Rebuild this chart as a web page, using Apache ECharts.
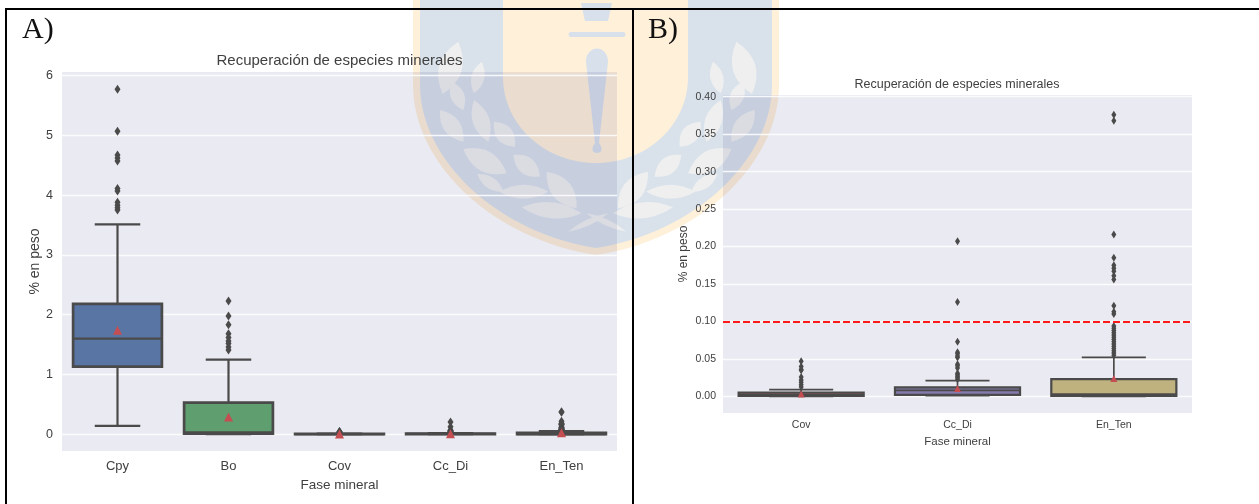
<!DOCTYPE html>
<html><head><meta charset="utf-8">
<style>html,body{margin:0;padding:0;background:#fff}#c{width:1259px;height:504px}</style>
<script src="https://cdn.jsdelivr.net/npm/echarts@6/dist/echarts.min.js"></script>
</head><body><div id="c"></div>
<script>
const chartTitle = 'Recuperación de especies minerales';
const xName = 'Fase mineral';
const yName = '% en peso';
const categoriesA = ['Cpy','Bo','Cov','Cc_Di','En_Ten'];
const categoriesB = ['Cov','Cc_Di','En_Ten'];
const ticksA = [0,1,2,3,4,5,6];
const ticksB = [0,0.05,0.10,0.15,0.20,0.25,0.30,0.35,0.40];
const threshold = 0.10;
// [low whisker, q1, median, q3, high whisker]
const boxCpy = [0.14,1.13,1.60,2.18,3.51];
const boxBo = [0.00,0.01,0.03,0.53,1.25];
const boxCov = [0.000,0.0005,0.002,0.005,0.009];
const boxCcDi = [0.001,0.002,0.008,0.012,0.021];
const boxEnTen = [0.000,0.0005,0.003,0.023,0.052];
const meanCpy = 1.74, meanBo = 0.29, meanCov = 0.003, meanCcDi = 0.0105, meanEnTen = 0.024;
const outCpy = [5.77,5.07,4.67,4.62,4.57,4.11,4.07,3.88,3.83,3.79,3.75];
const outBo = [2.23,1.98,1.83,1.68,1.62,1.56,1.52,1.46,1.41];
const outCov = [0.047,0.040,0.036,0.035,0.026,0.022,0.019,0.0155,0.0125];
const outCcDi = [0.207,0.126,0.073,0.059,0.057,0.054,0.052,0.043,0.041,0.038,0.031,0.029,0.027,0.025,0.023];
const outEnTen = [0.376,0.368,0.216,0.185,0.175,0.171,0.167,0.161,0.156,0.121,0.113,0.110,0.094,0.091,0.088,0.085,0.082,0.079,0.076,0.073,0.070,0.067,0.064,0.061,0.058,0.055];
const colorsA = ['#5975A4','#5F9E6E','#B55D60','#857AAB','#BFB27F'];
const colorsB = ['#B55D60','#857AAB','#BFB27F'];

const boxesA = [boxCpy,boxBo,boxCov,boxCcDi,boxEnTen];
const boxesB = [boxCov,boxCcDi,boxEnTen];
const meansA = [meanCpy,meanBo,meanCov,meanCcDi,meanEnTen];
const meansB = [meanCov,meanCcDi,meanEnTen];
const outsA = [outCpy,outBo,outCov,outCcDi,outEnTen];
const outsB = [outCov,outCcDi,outEnTen];

const INK = '#4A4A4A', TXT = '#404040';

function boxSeries(idx, boxes, colors, lw, extra){
  return Object.assign({
    type:'custom', xAxisIndex:idx, yAxisIndex:idx, z:3, silent:true,
    encode:{x:0,y:[1,2,3,4,5]},
    data:boxes.map((b,i)=>[i].concat(b)),
    renderItem(params, api){
      const i = api.value(0), w = api.size([1,0])[0];
      const p = k => api.coord([i, api.value(k)]);
      const lo=p(1), q1=p(2), md=p(3), q3=p(4), hi=p(5);
      const cx = lo[0], hb = w*0.4, hc = w*0.205;
      const st = {stroke:INK, lineWidth:lw, fill:null};
      const ln = (x1,y1,x2,y2)=>({type:'line',shape:{x1,y1,x2,y2},style:st});
      return {type:'group',children:[
        ln(cx,lo[1],cx,q1[1]), ln(cx,q3[1],cx,hi[1]),
        ln(cx-hc,lo[1],cx+hc,lo[1]), ln(cx-hc,hi[1],cx+hc,hi[1]),
        {type:'rect',shape:{x:cx-hb,y:q3[1],width:hb*2,height:q1[1]-q3[1]},
         style:{fill:colors[i],stroke:INK,lineWidth:lw+0.5}},
        ln(cx-hb,md[1],cx+hb,md[1])
      ]};
    }
  }, extra||{});
}
function outlierSeries(idx, outs, size){
  const d=[]; outs.forEach((a,i)=>a.forEach(v=>d.push([i,v])));
  return {type:'scatter',xAxisIndex:idx,yAxisIndex:idx,z:2,silent:true,symbol:'diamond',
    symbolSize:size,itemStyle:{color:INK,opacity:1},data:d};
}
function meanSeries(idx, means, size){
  return {type:'scatter',xAxisIndex:idx,yAxisIndex:idx,z:5,silent:true,symbol:'triangle',
    symbolSize:size,itemStyle:{color:'#C44E52',opacity:1},data:means.map((v,i)=>[i,v])};
}
function xAxisOf(idx,cats,fs,nfs,margin,gap){
  return {type:'category',gridIndex:idx,data:cats,axisLine:{show:false},axisTick:{show:false},
    axisLabel:{color:TXT,fontFamily:'Liberation Sans',fontSize:fs,margin:margin},
    splitLine:{show:false},name:xName,nameLocation:'middle',nameGap:gap,
    nameTextStyle:{color:TXT,fontFamily:'Liberation Sans',fontSize:nfs}};
}
function yAxisOf(idx,min,max,ticks,fmt,fs,margin,gap,nfs){
  return {type:'value',gridIndex:idx,min,max,axisLine:{show:false},
    axisTick:{show:false,customValues:ticks},
    axisLabel:{color:TXT,fontFamily:'Liberation Sans',fontSize:fs,margin:margin,customValues:ticks,formatter:fmt},
    splitLine:{show:true,lineStyle:{color:'rgba(255,255,255,0.85)',width:1.3}},
    name:yName,nameLocation:'middle',nameGap:gap,
    nameTextStyle:{color:TXT,fontFamily:'Liberation Sans',fontSize:nfs}};
}

// Background watermark crest (decoration, page pixels)
const shieldOuter = 'M413,-2 L413,85 C413,165 495,240 596,255 C697,240 779,165 779,85 L779,-2 Z';
const shieldInner = 'M420,-2 L420,85 C420,160 498,233 596,248 C694,233 772,160 772,85 L772,-2 Z';
const shieldU = 'M503,-2 L503,77 C503,125 545,163 596,163 C647,163 688,125 688,77 L688,-2 Z';
const swordPath = 'M581,3 L612,3 L608,21 L585,21 Z M570,32 L624,32 Q627,34.5 624,37 L570,37 Q567,34.5 570,32 Z M586,62 C586,44 608,44 608,62 L599,143 Q605,152 597,153 Q589,152 595,143 Z';
const leaves = [[175,125,128,282,60],[245,185,222,280,34],[155,245,190,330,36],[120,330,190,425,44],
  [222,300,265,425,44],[282,365,345,440,44],[190,447,320,520,54],[340,465,420,530,44],
  [232,522,310,575,30],[298,575,445,575,36],[440,515,530,625,54],[365,622,545,640,42],[505,695,625,640,16]];
function leafPath(l, mirror){
  const X = v => (mirror ? 1184-v : v)/3+400, Y = v => v/3;
  const [bx,by,tx,ty,w] = [X(l[0]),Y(l[1]),X(l[2]),Y(l[3]),l[4]/3*1.15];
  const dx=tx-bx, dy=ty-by, n=Math.hypot(dx,dy), nx=-dy/n*w, ny=dx/n*w, mx=(bx+tx)/2, my=(by+ty)/2;
  return `M${bx},${by} Q${mx+nx},${my+ny} ${tx},${ty} Q${mx-nx},${my-ny} ${bx},${by} Z`;
}
let wmCount = 0;
const P = (d,fill,z)=>{
  const name = 'wmShape'+(wmCount++);
  echarts.graphic.registerShape(name, echarts.graphic.extendPath(d,{}));
  return {type:name,silent:true,z,style:{fill}};
};
const wm = [P(shieldOuter,'#FEF0D9',-30),P(shieldInner,'#D9E2EB',-29),P(shieldU,'#FFF0DA',-28),P(swordPath,'#D7E0EB',-27)];
leaves.forEach(l=>{wm.push(P(leafPath(l,false),'#EFEFEF',-26));wm.push(P(leafPath(l,true),'#EFEFEF',-26));});

const backdrop = (x,y,w,h)=>({type:'rect',silent:true,z:-20,shape:{x,y,width:w,height:h},style:{fill:'#EAEAF2',blend:'multiply'}});
const frame = (x,y,w,h)=>({type:'rect',silent:true,z:50,shape:{x,y,width:w,height:h},style:{fill:'#000'}});
const panel = (t,x)=>({type:'text',silent:true,z:50,style:{text:t,x:x,y:15,fill:'#111',font:'30px "Liberation Serif"'}});

const option = {
  animation:false, backgroundColor:'#fff',
  title:[
    {text:chartTitle,left:339.5,top:61,padding:0,textAlign:'center',textVerticalAlign:'middle',textStyle:{color:TXT,fontFamily:'Liberation Sans',fontSize:15,fontWeight:'normal'}},
    {text:chartTitle,left:957,top:85,padding:0,textAlign:'center',textVerticalAlign:'middle',textStyle:{color:TXT,fontFamily:'Liberation Sans',fontSize:12.5,fontWeight:'normal'}}
  ],
  grid:[
    {left:62,top:72,width:555,height:379},
    {left:723,top:95,width:469,height:318}
  ],
  xAxis:[xAxisOf(0,categoriesA,13,13.5,9,25),xAxisOf(1,categoriesB,10.5,11.5,7,21)],
  yAxis:[
    yAxisOf(0,-0.28,6.06,ticksA,v=>String(v),12.5,9,20,14),
    yAxisOf(1,-0.0222,0.4023,ticksB,v=>v.toFixed(2),10.5,7,33,12)
  ],
  series:[
    outlierSeries(0,outsA,[6,9]),
    boxSeries(0,boxesA,colorsA,2.2),
    meanSeries(0,meansA,[9,9]),
    outlierSeries(1,outsB,[5,8]),
    boxSeries(1,boxesB,colorsB,1.7,{markLine:{silent:true,symbol:'none',label:{show:false},z:10,
      lineStyle:{color:'#FF1A1A',type:[7,3],width:2},data:[{yAxis:threshold}]}}),
    meanSeries(1,meansB,[7,7])
  ],
  graphic:[{type:'group',silent:true,children:wm.concat([
    backdrop(62,72,555,379),backdrop(723,95,469,318),
    frame(5,8,2,496),frame(632,8,2,496),frame(5,8,1254,2),
    panel('A)',22),panel('B)',648)
  ])}]
};
echarts.init(document.getElementById('c'),null,{renderer:'canvas'}).setOption(option);
</script></body></html>
